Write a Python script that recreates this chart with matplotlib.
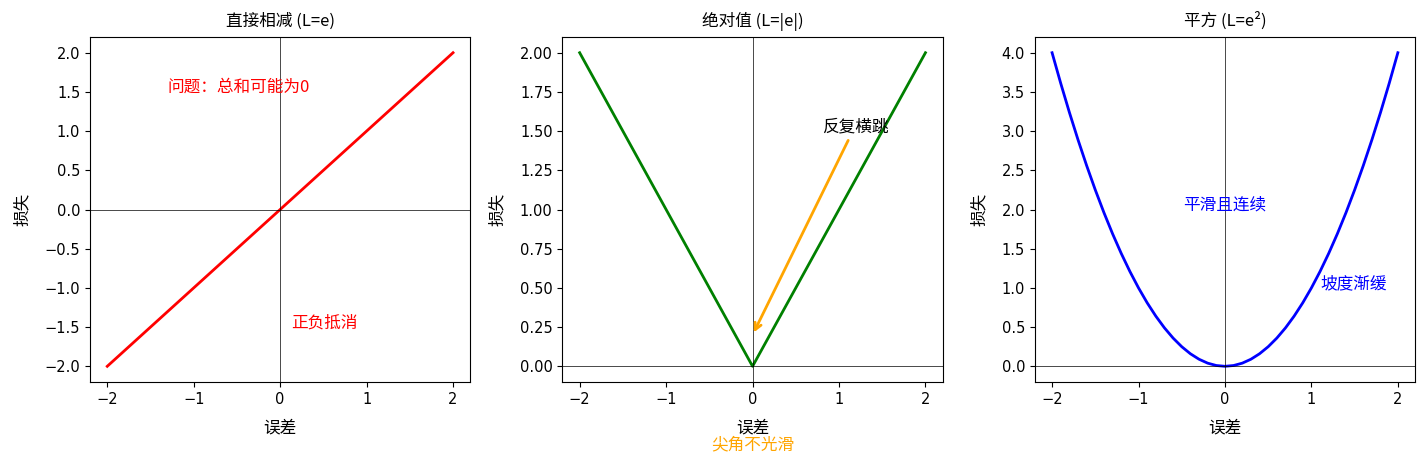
import numpy as np
import matplotlib
matplotlib.use('Agg')
import matplotlib.pyplot as plt

# data
err_lin = [-2.0, 0.0, 2.0]
loss_lin = [-2.0, 0.0, 2.0]

err_abs = [-2.0, 0.0, 2.0]
loss_abs = [2.0, 0.0, 2.0]

err_sq = [-2.0, -1.9, -1.8, -1.7, -1.6, -1.5, -1.4, -1.3, -1.2, -1.1, -1.0,
          -0.9, -0.8, -0.7, -0.6, -0.5, -0.4, -0.3, -0.2, -0.1, 0.0,
          0.1, 0.2, 0.3, 0.4, 0.5, 0.6, 0.7, 0.8, 0.9, 1.0,
          1.1, 1.2, 1.3, 1.4, 1.5, 1.6, 1.7, 1.8, 1.9, 2.0]
loss_sq = [4.00, 3.61, 3.24, 2.89, 2.56, 2.25, 1.96, 1.69, 1.44, 1.21, 1.00,
           0.81, 0.64, 0.49, 0.36, 0.25, 0.16, 0.09, 0.04, 0.01, 0.00,
           0.01, 0.04, 0.09, 0.16, 0.25, 0.36, 0.49, 0.64, 0.81, 1.00,
           1.21, 1.44, 1.69, 1.96, 2.25, 2.56, 2.89, 3.24, 3.61, 4.00]

titles = ['直接相减 (L=e)', '绝对值 (L=|e|)', '平方 (L=e²)']
cjk = ['Noto Sans CJK SC', 'DejaVu Sans']
fs = 12

fig, axes = plt.subplots(1, 3, figsize=(14.28, 4.63), dpi=100)

series = [(err_lin, loss_lin, 'red'), (err_abs, loss_abs, 'green'), (err_sq, loss_sq, 'blue')]
for ax, (x, y, c), t in zip(axes, series, titles):
    ax.plot(x, y, color=c, linewidth=2)
    ax.axhline(0, color='black', linewidth=0.5)
    ax.axvline(0, color='black', linewidth=0.5)
    ax.set_title(t, family=cjk, fontsize=fs, pad=8)
    ax.set_xlabel('误差', family=cjk, fontsize=fs, labelpad=9)
    ax.set_ylabel('损失', family=cjk, fontsize=fs, labelpad=10)
    ax.tick_params(labelsize=10.5)

ax1, ax2, ax3 = axes
ax1.text(-1.3, 1.5, '问题：总和可能为0', color='red', family=cjk, fontsize=fs)
ax1.text(0.13, -1.5, '正负抵消', color='red', family=cjk, fontsize=fs)

ax2.annotate('反复横跳', xy=(0, 0.2), xytext=(0.8, 1.5), family=cjk, fontsize=fs,
             arrowprops=dict(arrowstyle='->', color='orange', linewidth=2))
ax2.text(0, -0.53, '尖角不光滑', color='orange', ha='center', family=cjk, fontsize=fs)

ax3.text(0, 2.0, '平滑且连续', color='blue', ha='center', family=cjk, fontsize=fs)
ax3.text(1.1, 1.0, '坡度渐缓', color='blue', family=cjk, fontsize=fs)

plt.subplots_adjust(left=0.063, right=0.991, top=0.92, bottom=0.175, wspace=0.242)
fig.savefig('out.png')
